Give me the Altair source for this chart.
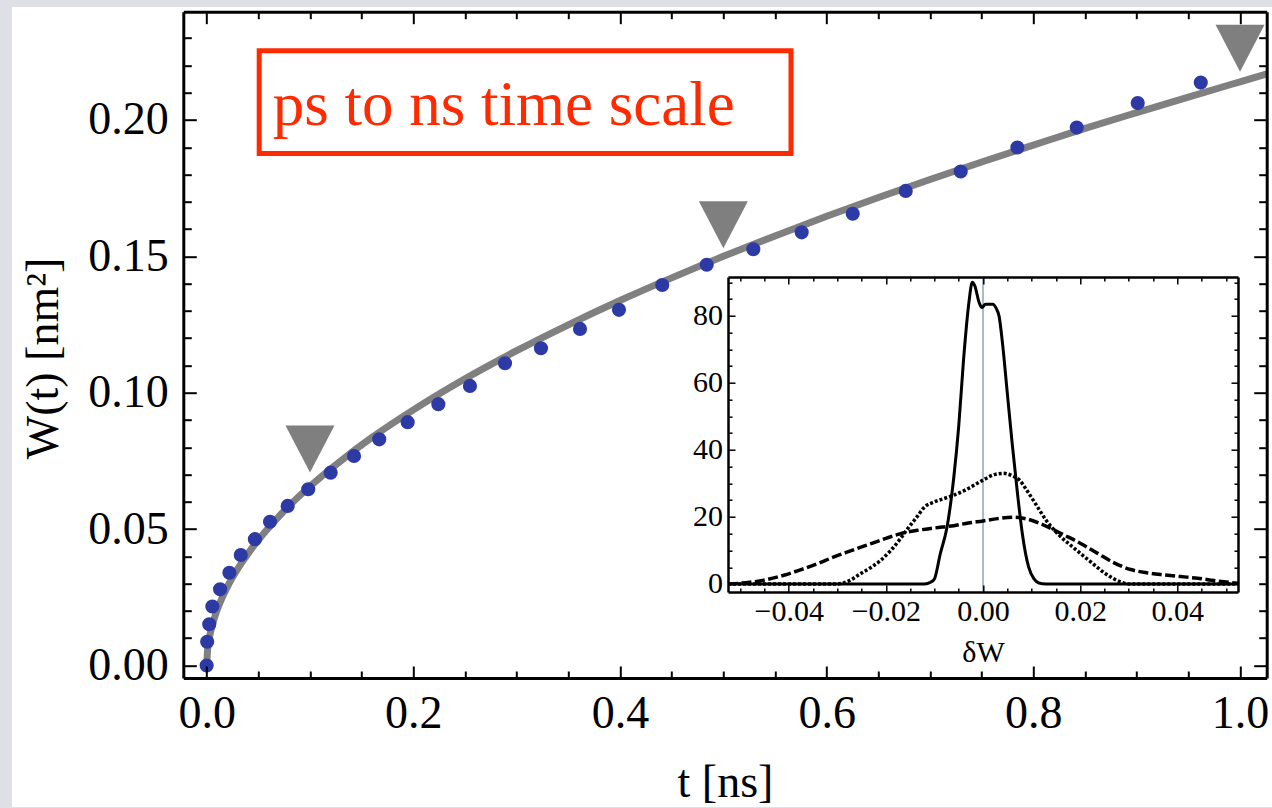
import altair as alt
import pandas as pd

# ---------------- data ----------------
# main panel: simulated W(t) points
t_sim = [0.0, 0.0005, 0.0025, 0.0055, 0.013, 0.022, 0.033, 0.0467, 0.0613, 0.0784,
         0.0983, 0.12, 0.1426, 0.167, 0.1945, 0.2242, 0.2548, 0.2887, 0.3235, 0.3613,
         0.399, 0.4409, 0.4839, 0.529, 0.5758, 0.6252, 0.6765, 0.7297, 0.7845, 0.842,
         0.901, 0.962]
w_sim = [0.0, 0.0087, 0.0151, 0.0216, 0.0279, 0.034, 0.0405, 0.0463, 0.0527, 0.0585,
         0.0646, 0.0707, 0.0768, 0.0829, 0.0892, 0.0958, 0.1025, 0.1108, 0.1163, 0.1234,
         0.1304, 0.1395, 0.1469, 0.1526, 0.1588, 0.1656, 0.174, 0.1811, 0.1899, 0.1972,
         0.2062, 0.2137]
# main panel: grey fitted curve
t_fit = [0.0, 0.001, 0.003, 0.006, 0.01, 0.02, 0.035, 0.05, 0.07, 0.1, 0.13, 0.16,
         0.2, 0.25, 0.3, 0.35, 0.4, 0.45, 0.5, 0.55, 0.6, 0.65, 0.7, 0.75, 0.8, 0.85,
         0.9, 0.95, 1.0, 1.026]
w_fit = [0.0, 0.0062, 0.0109, 0.0155, 0.0202, 0.0288, 0.0383, 0.046, 0.0547, 0.0657,
         0.0751, 0.0836, 0.0937, 0.1051, 0.1154, 0.1249, 0.1338, 0.1421, 0.15, 0.1575,
         0.1647, 0.1716, 0.1782, 0.1846, 0.1908, 0.1969, 0.2027, 0.2084, 0.214, 0.2169]
# grey triangle markers
t_mark = [0.1, 0.5, 1.0]
w_mark = [0.0794, 0.1616, 0.2263]

# inset: distributions of dW
dw_solid = [-0.0525, -0.012, -0.0108, -0.01, -0.0088, -0.0074, -0.006, -0.005, -0.004,
            -0.0029, -0.0022, -0.0017, -0.0008, -0.0002, 0.0005, 0.002, 0.0028, 0.0033,
            0.004, 0.005, 0.006, 0.0071, 0.0081, 0.0094, 0.0105, 0.0115, 0.013, 0.0525]
p_solid = [0, 0, 0.5, 1.5, 9, 17, 32, 47, 67, 84, 90, 89, 84, 82.5, 83.5, 83.5, 82, 80,
           72, 57, 42, 27, 15, 5, 1.5, 0.3, 0, 0]
dw_dotted = [-0.0525, -0.03, -0.0275, -0.0253, -0.023, -0.0211, -0.019, -0.017, -0.0155,
             -0.0136, -0.012, -0.01, -0.008, -0.006, -0.003, 0.0, 0.0025, 0.0043, 0.006,
             0.0075, 0.009, 0.011, 0.013, 0.0155, 0.0185, 0.022, 0.0255, 0.028, 0.03,
             0.0525]
p_dotted = [0, 0, 1, 3, 5, 7, 10, 13.5, 16.5, 20, 23, 24.5, 25.5, 26.5, 28.5, 31, 32.7,
            33, 32.3, 31, 28, 23.5, 19, 14.8, 11, 6.8, 2.8, 0.8, 0, 0]
dw_dashed = [-0.0525, -0.048, -0.0445, -0.041, -0.0376, -0.034, -0.0308, -0.027, -0.0239,
             -0.02, -0.017, -0.0135, -0.01, -0.006, -0.003, 0.0, 0.003, 0.0064, 0.0098,
             0.0132, 0.0167, 0.0201, 0.0235, 0.027, 0.0304, 0.0339, 0.0373, 0.0407,
             0.0442, 0.0476, 0.0525]
p_dashed = [0, 0.5, 1.3, 2.6, 4.2, 6.1, 8, 10, 11.6, 13.6, 15, 16, 16.7, 17.4, 18.2, 18.8,
            19.5, 19.9, 19.1, 17.1, 14.6, 12.1, 9.2, 6.3, 4.3, 3.3, 2.7, 2.2, 1.7, 1.0, 0.2]

# axis domains and tick values
x_main_domain = [-0.0226, 1.0258]
y_main_domain = [-0.0046, 0.2397]
x_main_major = [0.0, 0.2, 0.4, 0.6, 0.8, 1.0]
x_main_minor = [0.05, 0.1, 0.15, 0.25, 0.3, 0.35, 0.45, 0.5, 0.55, 0.65, 0.7, 0.75,
                0.85, 0.9, 0.95]
y_main_major = [0.0, 0.05, 0.1, 0.15, 0.2]
y_main_minor = [0.01, 0.02, 0.03, 0.04, 0.06, 0.07, 0.08, 0.09, 0.11, 0.12, 0.13, 0.14,
                0.16, 0.17, 0.18, 0.19, 0.21, 0.22, 0.23]
x_in_domain = [-0.0525, 0.0525]
y_in_domain = [-2.4, 91.6]
x_in_major = [-0.04, -0.02, 0.0, 0.02, 0.04]
x_in_minor = [-0.05, -0.045, -0.035, -0.03, -0.025, -0.015, -0.01, -0.005, 0.005, 0.01,
              0.015, 0.025, 0.03, 0.035, 0.045, 0.05]
y_in_major = [0, 20, 40, 60, 80]
y_in_minor = [5, 10, 15, 25, 30, 35, 45, 50, 55, 65, 70, 75, 85, 90]

# ---------------- layout constants ----------------
FONT = "Liberation Serif"
PW, PH = 1083.4, 666.3          # plot area
IN_X = [544.7, 1054.7]          # inset placement inside plot (px)
IN_Y = [580.3, 265.3]

sim_df = pd.DataFrame({"t": t_sim, "W": w_sim})
fit_df = pd.DataFrame({"t": t_fit, "W": w_fit})
mark_df = pd.DataFrame({"t": t_mark, "W": w_mark})
solid_df = pd.DataFrame({"dW": dw_solid, "P": p_solid})
dotted_df = pd.DataFrame({"dW": dw_dotted, "P": p_dotted})
dashed_df = pd.DataFrame({"dW": dw_dashed, "P": p_dashed})
zero_df = pd.DataFrame({"dW": [0.0], "lo": [y_in_domain[0]], "hi": [y_in_domain[1]]})
one_df = pd.DataFrame({"k": [0]})

XS = alt.Scale(domain=x_main_domain, nice=False, zero=False)
YS = alt.Scale(domain=y_main_domain, nice=False, zero=False)
XI = alt.Scale(domain=x_in_domain, range=IN_X, nice=False, zero=False)
YI = alt.Scale(domain=y_in_domain, range=IN_Y, nice=False, zero=False)


def ax(orient, offset, size=None, values=None, labels=False, domain=False,
       tw=2, dw=3, **kw):
    d = dict(orient=orient, offset=offset, grid=False, zindex=1, labels=labels,
             domain=domain, ticks=size is not None, labelFlush=False)
    if size is not None:
        d.update(tickSize=size, tickWidth=tw, tickColor="black")
    if values is not None:
        d["values"] = values
    if domain:
        d.update(domainColor="black", domainWidth=dw)
    if labels:
        d.update(labelFont=FONT, labelColor="black")
    if "title" not in kw:
        d["title"] = None
    else:
        d.update(titleFont=FONT, titleColor="black", titleFontWeight="normal",
                 titleBaseline="alphabetic")
    d.update(kw)
    return alt.Axis(**d)


def mx(axis):
    return alt.X("t:Q", scale=XS, axis=axis)


def my(axis):
    return alt.Y("W:Q", scale=YS, axis=axis)


def ix(axis):
    return alt.X("dW:Q", scale=XI, axis=axis)


def iy(axis):
    return alt.Y("P:Q", scale=YI, axis=axis)


# white figure panel behind everything
panel = alt.Chart(one_df).mark_rect(color="white").encode(
    x=alt.value(-171.3), x2=alt.value(1095), y=alt.value(-4.7), y2=alt.value(795.3))

# ---------------- main panel ----------------
fit_line = alt.Chart(fit_df).mark_line(
    color="#808080", strokeWidth=7, interpolate="monotone").encode(
    x=mx(ax("bottom", -12, 12, x_main_major, labels=True, format=".1f",
            labelFontSize=46, labelPadding=13.5, title="t [ns]", titleFontSize=46,
            titleY=130)),
    y=my(ax("left", -13, 13, y_main_major, labels=True, format=".2f",
            labelFontSize=46, labelPadding=15, title="W(t) [nm²]", titleFontSize=46,
            titleX=-138.8, titleY=346.3, titleAngle=270, titleAlign="center")))

sim_pts = alt.Chart(sim_df).mark_circle(size=200, color="#2d3aa6", opacity=1).encode(
    x=mx(ax("bottom", -7, 7, x_main_minor)),
    y=my(ax("left", -8, 8, y_main_minor)))

TRI = "M -1 -0.96 L 1 -0.96 L 0 0.96 Z"
tris = alt.Chart(mark_df).mark_point(
    shape=TRI, filled=True, size=2401, color="#7f7f7f", opacity=1, strokeWidth=0).encode(
    x=mx(ax("top", -12, 12, x_main_major)),
    y=my(ax("right", -13, 13, y_main_major)))

frame_a = alt.Chart(fit_df).mark_point(opacity=0).encode(
    x=mx(ax("top", -7, 7, x_main_minor)),
    y=my(ax("right", -8, 8, y_main_minor)))
frame_b = alt.Chart(fit_df).mark_point(opacity=0).encode(
    x=mx(ax("bottom", 0, domain=True)),
    y=my(ax("left", 0, domain=True)))
frame_c = alt.Chart(fit_df).mark_point(opacity=0).encode(
    x=mx(ax("top", 0, domain=True)),
    y=my(ax("right", 0, domain=True)))

# ---------------- inset ----------------
ib = IN_Y[0] - PH            # bottom edge offset (negative)
it = -IN_Y[1]                # top edge offset
il = -IN_X[0]                # left edge offset
ir = IN_X[1] - PW            # right edge offset

zero_rule = alt.Chart(zero_df).mark_rule(color="#8fa3b1", strokeWidth=1.5).encode(
    x=ix(None), y=alt.Y("lo:Q", scale=YI, axis=None), y2="hi:Q")

solid = alt.Chart(solid_df).mark_line(
    color="black", strokeWidth=3, interpolate="monotone").encode(
    x=ix(ax("bottom", ib - 7, 7, x_in_major, labels=True, format=".2f", tw=1.5,
            labelFontSize=30, labelPadding=4.6, title="δW", titleFontSize=30,
            titleY=76)),
    y=iy(ax("left", il - 7, 7, y_in_major, labels=True, format="d", tw=1.5,
            labelFontSize=30, labelPadding=5.5)))

dotted = alt.Chart(dotted_df).mark_line(
    color="black", strokeWidth=3.5, strokeDash=[3, 2], interpolate="monotone").encode(
    x=ix(ax("bottom", ib - 4, 4, x_in_minor, tw=1.5)),
    y=iy(ax("left", il - 4, 4, y_in_minor, tw=1.5)))

dashed = alt.Chart(dashed_df).mark_line(
    color="black", strokeWidth=3.5, strokeDash=[10, 3.5], interpolate="monotone").encode(
    x=ix(ax("top", it - 7, 7, x_in_major, tw=1.5)),
    y=iy(ax("right", ir - 7, 7, y_in_major, tw=1.5)))

iframe_a = alt.Chart(solid_df).mark_point(opacity=0).encode(
    x=ix(ax("top", it - 4, 4, x_in_minor, tw=1.5)),
    y=iy(ax("right", ir - 4, 4, y_in_minor, tw=1.5)))
iframe_b = alt.Chart(solid_df).mark_point(opacity=0).encode(
    x=ix(ax("bottom", ib, domain=True, dw=2.5)),
    y=iy(ax("left", il, domain=True, dw=2.5)))
iframe_c = alt.Chart(solid_df).mark_point(opacity=0).encode(
    x=ix(ax("top", it, domain=True, dw=2.5)),
    y=iy(ax("right", ir, domain=True, dw=2.5)))

# ---------------- red annotation ----------------
red_box = alt.Chart(one_df).mark_rect(
    fillOpacity=0, stroke="#ff2a00", strokeWidth=5).encode(
    x=alt.value(75.9), x2=alt.value(607.7), y=alt.value(39.1), y2=alt.value(141.8))
red_text = alt.Chart(one_df).mark_text(
    align="left", baseline="alphabetic", font=FONT, fontSize=63, color="#ff2a00").encode(
    x=alt.value(89.4), y=alt.value(113.3), text=alt.value("ps to ns time scale"))

chart = alt.layer(
    panel, fit_line, sim_pts, tris, frame_a, frame_b, frame_c,
    zero_rule, solid, dotted, dashed, iframe_a, iframe_b, iframe_c,
    red_box, red_text,
).resolve_scale(
    x="independent", y="independent"
).resolve_axis(
    x="independent", y="independent"
).properties(
    width=PW, height=PH,
    padding={"left": 183.3, "top": 11.7, "right": 5.3, "bottom": 130},
    autosize=alt.AutoSizeParams(type="none"),
    background="#dde1e6",
).configure_view(strokeWidth=0)

chart.save("out.html", embed_options={"renderer": "svg", "actions": False})
